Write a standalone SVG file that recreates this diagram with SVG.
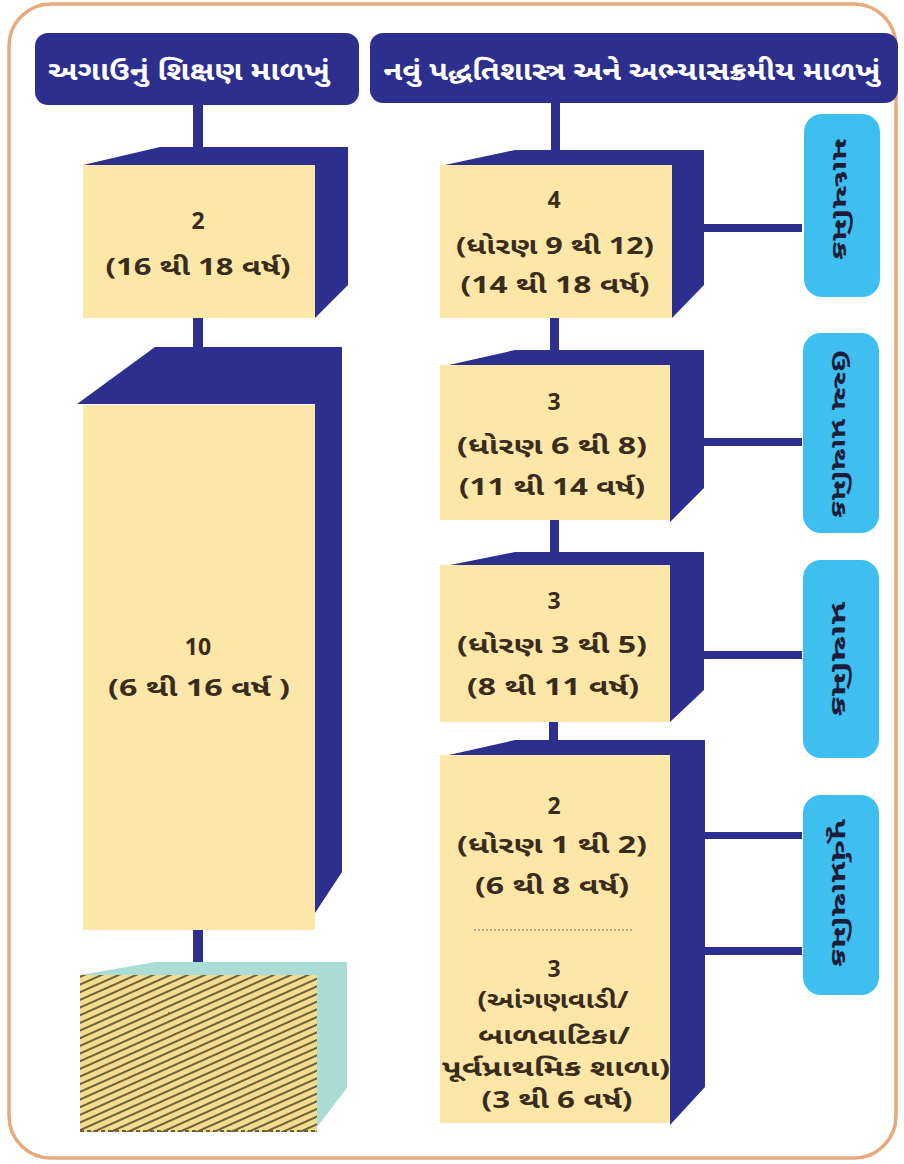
<svg xmlns="http://www.w3.org/2000/svg" width="904" height="1164" viewBox="0 0 904 1164">
<style>
.navy{fill:#2d2f8e}
.cream{fill:#fde7a8}
.hdr{font-family:"Noto Sans Gujarati","Noto Sans","Lohit Gujarati",sans-serif;font-weight:bold;font-size:26px;fill:#ffffff;text-anchor:middle}
.bt{font-family:"Noto Sans Gujarati","Noto Sans","Lohit Gujarati",sans-serif;font-weight:bold;font-size:23px;fill:#3a2c1c;text-anchor:middle}
.side{fill:#3fbef0}
.st{font-family:"Noto Sans Gujarati","Noto Sans","Lohit Gujarati",sans-serif;font-weight:bold;font-size:22px;fill:#1d1d3a;text-anchor:middle}
</style>
<defs>
<pattern id="hatch" width="7" height="7" patternUnits="userSpaceOnUse" patternTransform="rotate(-24)">
<rect width="7" height="7" fill="#f3dc8e"/>
<rect width="7" height="2" fill="#6b6238"/>
</pattern>
</defs>
<rect x="0" y="0" width="904" height="1164" fill="#ffffff"/>
<rect x="9" y="4" width="887" height="1154" rx="42" ry="42" fill="#ffffff" stroke="#e8aa7c" stroke-width="3.5"/>

<g id="connectors">
<rect class="navy" x="193" y="104" width="10" height="46"/>
<rect class="navy" x="193" y="316" width="10" height="33"/>
<rect class="navy" x="193" y="928" width="10" height="35"/>
<rect class="navy" x="551" y="100" width="9" height="52"/>
<rect class="navy" x="550" y="318" width="9" height="34"/>
<rect class="navy" x="550" y="518" width="9" height="36"/>
<rect class="navy" x="549" y="720" width="9" height="22"/>
<rect class="navy" x="702" y="224" width="100" height="8"/>
<rect class="navy" x="702" y="438" width="100" height="8"/>
<rect class="navy" x="702" y="651" width="100" height="8"/>
<rect class="navy" x="702" y="832" width="100" height="7"/>
<rect class="navy" x="702" y="947" width="100" height="8"/>
</g>

<g id="header-old">
<rect class="navy" x="35" y="33" width="324" height="72" rx="13" ry="13"/>
<text class="hdr" x="189" y="80" textLength="282" lengthAdjust="spacingAndGlyphs">અગાઉનું શિક્ષણ માળખું</text>
</g>
<g id="header-new">
<rect class="navy" x="370" y="33" width="528" height="70" rx="13" ry="13"/>
<text class="hdr" x="632" y="80" textLength="497" lengthAdjust="spacingAndGlyphs">નવું પદ્ધતિશાસ્ત્ર અને અભ્યાસક્રમીય માળખું</text>
</g>

<g id="old-2">
<polygon class="navy" points="83,165 160,147 348,147 348,285 315,318 315,165"/>
<rect class="cream" x="83" y="165" width="232" height="153"/>
<text class="bt" x="198" y="229">2</text>
<text class="bt" x="198" y="275" textLength="185" lengthAdjust="spacingAndGlyphs">(16 થી 18 વર્ષ)</text>
</g>

<g id="old-10">
<polygon class="navy" points="77,404 155,347 342,347 342,872 315,913 315,404"/>
<rect class="cream" x="83" y="405" width="232" height="525"/>
<text class="bt" x="198" y="655">10</text>
<text class="bt" x="199" y="696" textLength="182" lengthAdjust="spacingAndGlyphs">(6 થી 16 વર્ષ )</text>
</g>

<g id="old-pre">
<polygon fill="#a9ddd6" points="80,975 155,962 347,962 347,1088 317,1127 317,975"/>
<rect fill="url(#hatch)" x="80" y="975" width="237" height="157"/>
<line x1="80" y1="1131" x2="317" y2="1131" stroke="#6b6238" stroke-width="2" stroke-dasharray="4 3"/>
</g>

<g id="new-4">
<polygon class="navy" points="440,166 515,150 704,150 704,285 672,318 672,165"/>
<rect class="cream" x="440" y="165" width="232" height="153"/>
<text class="bt" x="554" y="208">4</text>
<text class="bt" x="555" y="254" textLength="198" lengthAdjust="spacingAndGlyphs">(ધોરણ 9 થી 12)</text>
<text class="bt" x="555" y="293" textLength="189" lengthAdjust="spacingAndGlyphs">(14 થી 18 વર્ષ)</text>
</g>

<g id="new-3a">
<polygon class="navy" points="440,367 515,350 704,350 704,488 670,522 670,365"/>
<rect class="cream" x="440" y="365" width="230" height="155"/>
<text class="bt" x="554" y="410">3</text>
<text class="bt" x="552" y="454" textLength="190" lengthAdjust="spacingAndGlyphs">(ધોરણ 6 થી 8)</text>
<text class="bt" x="552" y="495" textLength="186" lengthAdjust="spacingAndGlyphs">(11 થી 14 વર્ષ)</text>
</g>

<g id="new-3b">
<polygon class="navy" points="440,567 515,552 704,552 704,690 670,722 670,565"/>
<rect class="cream" x="440" y="565" width="230" height="157"/>
<text class="bt" x="554" y="609">3</text>
<text class="bt" x="552" y="653" textLength="190" lengthAdjust="spacingAndGlyphs">(ધોરણ 3 થી 5)</text>
<text class="bt" x="553" y="695" textLength="172" lengthAdjust="spacingAndGlyphs">(8 થી 11 વર્ષ)</text>
</g>

<g id="new-5">
<polygon class="navy" points="440,757 515,740 705,740 705,1087 670,1125 670,755"/>
<rect class="cream" x="440" y="755" width="230" height="368"/>
<text class="bt" x="554" y="814">2</text>
<text class="bt" x="552" y="853" textLength="190" lengthAdjust="spacingAndGlyphs">(ધોરણ 1 થી 2)</text>
<text class="bt" x="552" y="894" textLength="154" lengthAdjust="spacingAndGlyphs">(6 થી 8 વર્ષ)</text>
<line x1="474" y1="930" x2="634" y2="930" stroke="#9a8f80" stroke-width="1.5" stroke-dasharray="2 2"/>
<text class="bt" x="554" y="977">3</text>
<text class="bt" x="553" y="1008" textLength="151" lengthAdjust="spacingAndGlyphs">(આંગણવાડી/</text>
<text class="bt" x="554" y="1044" textLength="152" lengthAdjust="spacingAndGlyphs">બાળવાટિકા/</text>
<text class="bt" x="556" y="1076" textLength="228" lengthAdjust="spacingAndGlyphs">પૂર્વપ્રાથમિક શાળા)</text>
<text class="bt" x="557" y="1108" textLength="151" lengthAdjust="spacingAndGlyphs">(3 થી 6 વર્ષ)</text>
</g>

<g id="stage-secondary">
<rect class="side" x="804" y="114" width="76" height="183" rx="18" ry="18"/>
<text class="st" transform="translate(841,199) rotate(90)" y="8" textLength="122" lengthAdjust="spacingAndGlyphs">માધ્યમિક</text>
</g>
<g id="stage-middle">
<rect class="side" x="803" y="333" width="76" height="200" rx="18" ry="18"/>
<text class="st" transform="translate(840,434) rotate(90)" y="8" textLength="168" lengthAdjust="spacingAndGlyphs">ઉચ્ચ પ્રાથમિક</text>
</g>
<g id="stage-preparatory">
<rect class="side" x="803" y="560" width="76" height="198" rx="18" ry="18"/>
<text class="st" transform="translate(840,659) rotate(90)" y="8" textLength="115" lengthAdjust="spacingAndGlyphs">પ્રાથમિક</text>
</g>
<g id="stage-foundational">
<rect class="side" x="803" y="795" width="76" height="200" rx="18" ry="18"/>
<text class="st" transform="translate(840,893) rotate(90)" y="8" textLength="148" lengthAdjust="spacingAndGlyphs">પૂર્વપ્રાથમિક</text>
</g>
</svg>
